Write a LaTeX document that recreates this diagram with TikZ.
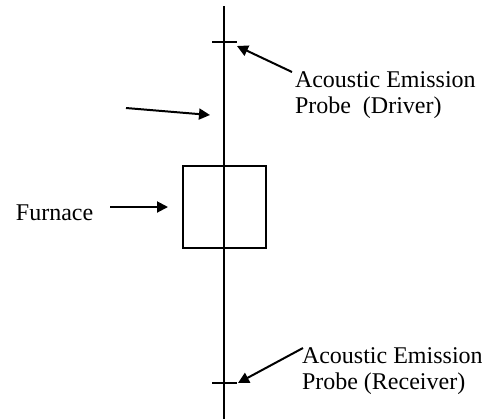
\documentclass[tikz,border=0pt]{standalone}
\usepackage{fontspec}
\setmainfont{Liberation Serif}
\usetikzlibrary{arrows.meta}
\begin{document}
\begin{tikzpicture}[x=0.5pt, y=-0.5pt, line width=1pt,
    >={Triangle[length=5.5pt, width=5.5pt]},
    label text/.style={align=left, inner sep=0pt, anchor=north west,
        font=\fontsize{12}{13}\selectfont},
    probe/.style={line width=1pt}]

    \useasboundingbox (0,0) rectangle (482,419);

    % rod through the furnace
    \coordinate (rod top) at (224,6);
    \coordinate (rod bot) at (224,419);
    \draw (rod top) -- (rod bot);

    % furnace
    \node[draw, minimum width=41.5pt, minimum height=41pt, inner sep=0pt]
        (furnace) at (224.5,207) {};
    \node[inner sep=0pt, anchor=base west, font=\fontsize{12}{13}\selectfont]
        (furnace label) at (15,220) {Furnace};
    \draw[->, shorten <=8pt, shorten >=7pt] (furnace label.east |- furnace.west) -- (furnace.west);

    % probes
    \coordinate (driver) at (224,42);
    \coordinate (receiver) at (224,383);
    \draw[probe] ([xshift=-6pt]driver) -- ([xshift=6.5pt]driver);
    \draw[probe] ([xshift=-6pt]receiver) -- ([xshift=6.5pt]receiver);

    \node[label text] (driver label) at (294,71) {Acoustic Emission\\Probe~~(Driver)};
    \node[label text] (receiver label) at (301,347) {Acoustic Emission\\Probe (Receiver)};

    \coordinate (driver tail) at (292,72);
    \coordinate (receiver tail) at (303,348);
    \draw[->] (driver tail) -- ([xshift=6.5pt,yshift=-2pt]driver);
    \draw[->] (receiver tail) -- ([xshift=7pt]receiver);

    % unlabelled arrow
    \coordinate (free tail) at (126,108);
    \coordinate (rod mark) at (210,115);
    \draw[->] (free tail) -- (rod mark);

\end{tikzpicture}
\end{document}
